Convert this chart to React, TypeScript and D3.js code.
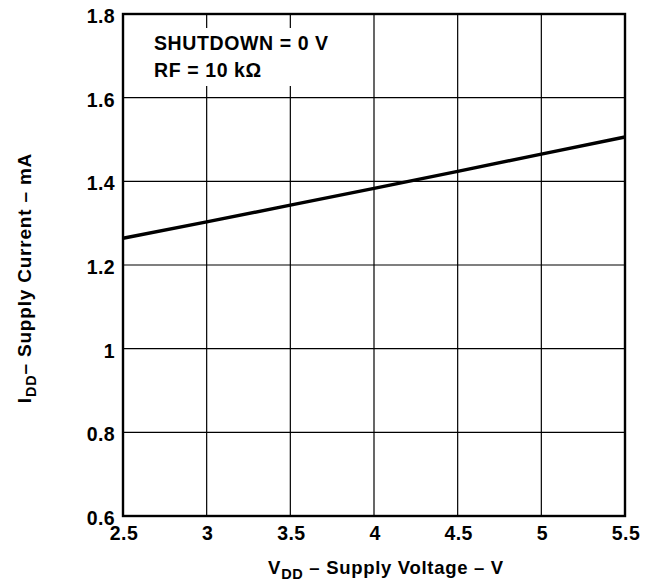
import React from "react";
import * as d3 from "d3";

const xTicks = [2.5, 3, 3.5, 4, 4.5, 5, 5.5];
const xTickLabels = ["2.5", "3", "3.5", "4", "4.5", "5", "5.5"];
const yTicks = [0.6, 0.8, 1, 1.2, 1.4, 1.6, 1.8];
const yTickLabels = ["0.6", "0.8", "1", "1.2", "1.4", "1.6", "1.8"];
const vdd = [2.5, 3, 3.5, 4, 4.5, 5, 5.5];
const idd = [1.264, 1.303, 1.343, 1.383, 1.424, 1.465, 1.506];

export default function App() {
  const L = 123, R = 625, T = 14, B = 516;
  const x = d3.scaleLinear().domain([2.5, 5.5]).range([L, R]);
  const y = d3.scaleLinear().domain([0.6, 1.8]).range([B, T]);
  const line = d3.line<number>().x((_, i) => x(vdd[i])).y((d) => y(d));
  const font = "Liberation Sans, Arial, sans-serif";
  return (
    <svg width={656} height={581} style={{ position: "absolute", left: 0, top: 0 }} fontFamily={font}>
      <rect width={656} height={581} fill="white" />
      {xTicks.slice(1, -1).map((t) => (
        <line key={"gx" + t} x1={x(t)} x2={x(t)} y1={T} y2={B} stroke="#000" strokeWidth={1.2} />
      ))}
      {yTicks.slice(1, -1).map((t) => (
        <line key={"gy" + t} x1={L} x2={R} y1={y(t)} y2={y(t)} stroke="#000" strokeWidth={1.2} />
      ))}
      <rect x={150} y={28} width={190} height={58} fill="white" />
      <text x={154} y={50} fontSize={19.5} fontWeight="bold" letterSpacing={0.6}>SHUTDOWN = 0 V</text>
      <text x={154} y={77} fontSize={19.5} fontWeight="bold" letterSpacing={0.6}>RF = 10 kΩ</text>
      <path d={line(idd) || ""} fill="none" stroke="#000" strokeWidth={3.4} />
      <rect x={L} y={T} width={R - L} height={B - T} fill="none" stroke="#000" strokeWidth={2.4} />
      {yTicks.map((t, i) => (
        <text key={"yl" + t} x={L - 8} y={y(t) + 9} fontSize={19.5} fontWeight="bold" textAnchor="end" letterSpacing={0.4}>{yTickLabels[i]}</text>
      ))}
      {xTicks.map((t, i) => (
        <text key={"xl" + t} x={x(t) + 1} y={540} fontSize={19.5} fontWeight="bold" textAnchor="middle" letterSpacing={0.4}>{xTickLabels[i]}</text>
      ))}
      <text x={386} y={574} fontSize={18.5} fontWeight="bold" textAnchor="middle" letterSpacing={0.7}>
        V<tspan fontSize={14.5} dy={5}>DD</tspan><tspan dy={-5}> – Supply Voltage – V</tspan>
      </text>
      <text transform="translate(31,278) rotate(-90)" fontSize={19} fontWeight="bold" textAnchor="middle" letterSpacing={0.8}>
        I<tspan fontSize={14.5} dy={5}>DD</tspan><tspan dy={-5}>– Supply Current – mA</tspan>
      </text>
    </svg>
  );
}
